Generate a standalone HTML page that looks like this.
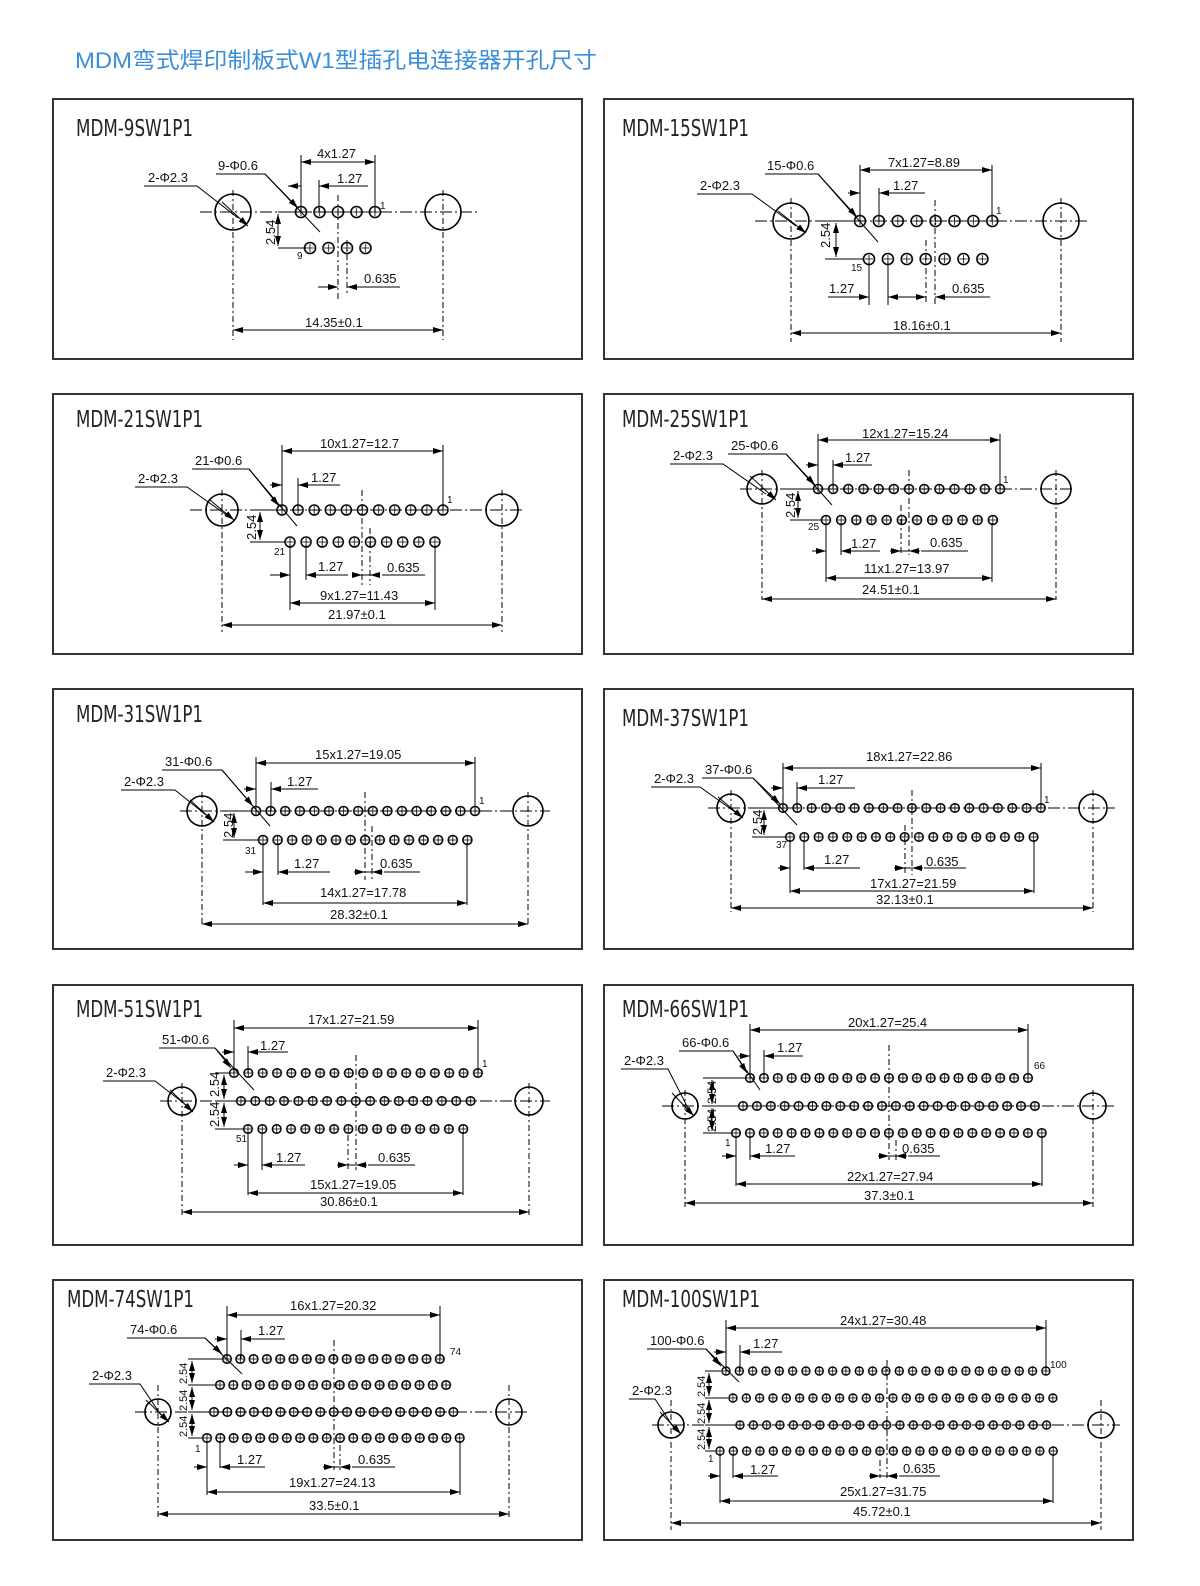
<!DOCTYPE html>
<html><head><meta charset="utf-8"><style>
html,body{margin:0;padding:0;background:#fff;overflow:hidden;width:1200px;height:1586px}
svg{display:block}
text{font-family:"Liberation Sans",sans-serif;font-size:13px;fill:#111}
.t{font-family:"DejaVu Sans Condensed","Liberation Sans Narrow","Liberation Sans",sans-serif;font-size:23px;fill:#222}
.b{fill:none;stroke:#333;stroke-width:2}
.s{fill:none;stroke:#000;stroke-width:1.6}
.c{stroke:#000;stroke-width:1;stroke-dasharray:12 3 2 3;fill:none}
.v{stroke:#000;stroke-width:1;stroke-dasharray:6 3 2 3;fill:none}
.d{stroke:#000;stroke-width:1;fill:none;marker-start:url(#ar);marker-end:url(#ar)}
.e{stroke:#000;stroke-width:1;fill:none}
.m{font-size:10px}
</style></head><body>
<svg width="1200" height="1586" viewBox="0 0 1200 1586" xmlns="http://www.w3.org/2000/svg">
<defs>
<marker id="ar" viewBox="0 0 10 6" refX="10" refY="3" markerWidth="10" markerHeight="6" markerUnits="userSpaceOnUse" orient="auto-start-reverse"><path d="M0 0L10 3L0 6z" fill="#000"/></marker>
<pattern id="pa" width="18.5" height="20" patternUnits="userSpaceOnUse"><circle cx="9.25" cy="10" r="5.5" fill="none" stroke="#000" stroke-width="1.6"/><path d="M9.25 6v8M5.25 10h8" stroke="#000" stroke-width="0.8"/></pattern>
<pattern id="pb" width="18.9" height="20" patternUnits="userSpaceOnUse"><circle cx="9.45" cy="10" r="5.5" fill="none" stroke="#000" stroke-width="1.6"/><path d="M9.45 6v8M5.45 10h8" stroke="#000" stroke-width="0.8"/></pattern>
<pattern id="pc" width="16.1" height="20" patternUnits="userSpaceOnUse"><circle cx="8.05" cy="10" r="5" fill="none" stroke="#000" stroke-width="1.5"/><path d="M8.05 6v8M4.05 10h8" stroke="#000" stroke-width="0.8"/></pattern>
<pattern id="pd" width="15.17" height="20" patternUnits="userSpaceOnUse"><circle cx="7.585" cy="10" r="4.5" fill="none" stroke="#000" stroke-width="1.5"/><path d="M7.585 6v8M3.585 10h8" stroke="#000" stroke-width="0.8"/></pattern>
<pattern id="pe" width="14.6" height="20" patternUnits="userSpaceOnUse"><circle cx="7.3" cy="10" r="4.5" fill="none" stroke="#000" stroke-width="1.5"/><path d="M7.3 6v8M3.3 10h8" stroke="#000" stroke-width="0.8"/></pattern>
<pattern id="pf" width="14.33" height="20" patternUnits="userSpaceOnUse"><circle cx="7.165" cy="10" r="4.3" fill="none" stroke="#000" stroke-width="1.5"/><path d="M7.165 6v8M3.165 10h8" stroke="#000" stroke-width="0.8"/></pattern>
<pattern id="pg" width="14.35" height="20" patternUnits="userSpaceOnUse"><circle cx="7.175" cy="10" r="4.3" fill="none" stroke="#000" stroke-width="1.5"/><path d="M7.175 6v8M3.175 10h8" stroke="#000" stroke-width="0.8"/></pattern>
<pattern id="ph" width="13.9" height="20" patternUnits="userSpaceOnUse"><circle cx="6.95" cy="10" r="4.3" fill="none" stroke="#000" stroke-width="1.5"/><path d="M6.95 6v8M2.95 10h8" stroke="#000" stroke-width="0.8"/></pattern>
<pattern id="pi" width="13.3" height="20" patternUnits="userSpaceOnUse"><circle cx="6.65" cy="10" r="4.3" fill="none" stroke="#000" stroke-width="1.5"/><path d="M6.65 6v8M2.65 10h8" stroke="#000" stroke-width="0.8"/></pattern>
<pattern id="pj" width="13.33" height="20" patternUnits="userSpaceOnUse"><circle cx="6.665" cy="10" r="4" fill="none" stroke="#000" stroke-width="1.4"/><path d="M6.665 6v8M2.665 10h8" stroke="#000" stroke-width="0.8"/></pattern>
</defs>

<text x="75" y="68" style="font-family:'Liberation Sans','Noto Sans CJK SC',sans-serif;font-size:22px;fill:#3b8ed8" textLength="522" lengthAdjust="spacingAndGlyphs">MDM弯式焊印制板式W1型插孔电连接器开孔尺寸</text>

<rect class="b" x="53" y="99" width="529" height="260"/>
<rect class="b" x="604" y="99" width="529" height="260"/>
<rect class="b" x="53" y="394" width="529" height="260"/>
<rect class="b" x="604" y="394" width="529" height="260"/>
<rect class="b" x="53" y="689" width="529" height="260"/>
<rect class="b" x="604" y="689" width="529" height="260"/>
<rect class="b" x="53" y="985" width="529" height="260"/>
<rect class="b" x="604" y="985" width="529" height="260"/>
<rect class="b" x="53" y="1280" width="529" height="260"/>
<rect class="b" x="604" y="1280" width="529" height="260"/>

<text class="t" x="76" y="136" textLength="117" lengthAdjust="spacingAndGlyphs">MDM-9SW1P1</text>
<text class="t" x="622" y="136" textLength="127" lengthAdjust="spacingAndGlyphs">MDM-15SW1P1</text>
<text class="t" x="76" y="427" textLength="127" lengthAdjust="spacingAndGlyphs">MDM-21SW1P1</text>
<text class="t" x="622" y="427" textLength="127" lengthAdjust="spacingAndGlyphs">MDM-25SW1P1</text>
<text class="t" x="76" y="722" textLength="127" lengthAdjust="spacingAndGlyphs">MDM-31SW1P1</text>
<text class="t" x="622" y="726" textLength="127" lengthAdjust="spacingAndGlyphs">MDM-37SW1P1</text>
<text class="t" x="76" y="1017" textLength="127" lengthAdjust="spacingAndGlyphs">MDM-51SW1P1</text>
<text class="t" x="622" y="1017" textLength="127" lengthAdjust="spacingAndGlyphs">MDM-66SW1P1</text>
<text class="t" x="67" y="1307" textLength="127" lengthAdjust="spacingAndGlyphs">MDM-74SW1P1</text>
<text class="t" x="622" y="1307" textLength="138" lengthAdjust="spacingAndGlyphs">MDM-100SW1P1</text>

<!-- P1 -->
<path class="c" d="M200 212H480"/>
<circle class="s" cx="233" cy="212" r="18"/><circle class="s" cx="443" cy="212" r="18"/>
<path class="v" d="M233 190V340M443 190V340M338 195V300M347 240V295"/>
<g transform="translate(291.75 202)"><rect width="92.5" height="20" fill="url(#pa)"/></g>
<g transform="translate(300.75 238)"><rect width="74" height="20" fill="url(#pa)"/></g>
<path class="e" d="M301 155V212M375 155V212M319 180V212M278 212H300M278 248H306"/>
<path class="d" d="M301 162H375"/><text x="317" y="158">4x1.27</text>
<path class="e" d="M288 186H301"/><path class="d" d="M301 186H288" style="marker-start:none"/><path class="e" d="M330 186H368"/><path class="d" d="M330 186H319" style="marker-start:none"/><text x="337" y="183">1.27</text>
<path class="d" d="M278 214V246"/><text x="275" y="245" transform="rotate(-90 275 245)">2.54</text>
<path class="e" d="M318 287H338M347 287H400"/><path class="d" d="M328 287H338" style="marker-start:none"/><path class="d" d="M357 287H347" style="marker-start:none"/><text x="364" y="283">0.635</text>
<path class="d" d="M233 330H443"/><text x="305" y="327">14.35±0.1</text>
<text x="148" y="182">2-Φ2.3</text><path class="e" d="M144 186H197L238 218"/><path class="d" d="M222 202L248 226" style="marker-start:none"/>
<text x="218" y="170">9-Φ0.6</text><path class="e" d="M216 174H265L320 232"/><path class="d" d="M265 174L298 208" style="marker-start:none"/>
<text class="m" x="380" y="209">1</text><text class="m" x="297" y="259">9</text>

<!-- P2 -->
<path class="c" d="M755 221H1090"/>
<circle class="s" cx="791" cy="221" r="18"/><circle class="s" cx="1061" cy="221" r="18"/>
<path class="v" d="M791 198V342M1061 198V342M935 200V305M926 240V305"/>
<g transform="translate(850.55 211)"><rect width="151.2" height="20" fill="url(#pb)"/></g>
<g transform="translate(859.55 249)"><rect width="132.3" height="20" fill="url(#pb)"/></g>
<path class="e" d="M860 165V221M992 165V221M879 188V221M825 221H855M825 259H864M869 262V305M888 262V305"/>
<path class="d" d="M860 170H992"/><text x="888" y="167">7x1.27=8.89</text>
<path class="d" d="M848 193H860" style="marker-start:none"/><path class="d" d="M893 193H879" style="marker-start:none"/><path class="e" d="M893 193H925"/><text x="893" y="190">1.27</text>
<path class="d" d="M836 223V257"/><text x="830" y="248" transform="rotate(-90 830 248)">2.54</text>
<path class="e" d="M828 297H869M888 297H926M935 297H990"/><path class="d" d="M858 297H869" style="marker-start:none"/><path class="d" d="M899 297H888" style="marker-start:none"/><path class="d" d="M916 297H926" style="marker-start:none"/><path class="d" d="M945 297H935" style="marker-start:none"/>
<text x="829" y="293">1.27</text><text x="952" y="293">0.635</text>
<path class="d" d="M791 333H1061"/><text x="893" y="330">18.16±0.1</text>
<text x="700" y="190">2-Φ2.3</text><path class="e" d="M697 194H752L796 226"/><path class="d" d="M778 211L806 233" style="marker-start:none"/>
<text x="767" y="170">15-Φ0.6</text><path class="e" d="M765 174H818L878 242"/><path class="d" d="M818 174L857 217" style="marker-start:none"/>
<text class="m" x="996" y="214">1</text><text class="m" x="851" y="271">15</text>

<!-- P3 -->
<path class="c" d="M190 510H525"/>
<circle class="s" cx="222" cy="510" r="16"/><circle class="s" cx="502" cy="510" r="16"/>
<path class="v" d="M222 490V632M502 490V632M362 490V585M370 528V585"/>
<g transform="translate(273.95 500)"><rect width="177.1" height="20" fill="url(#pc)"/></g>
<g transform="translate(281.95 532)"><rect width="161" height="20" fill="url(#pc)"/></g>
<path class="e" d="M282 445V510M443 445V510M298 478V510M250 510H277M250 542H285M290 545V610M435 545V610M306 545V580"/>
<path class="d" d="M282 451H443"/><text x="320" y="448">10x1.27=12.7</text>
<path class="d" d="M270 485H282" style="marker-start:none"/><path class="d" d="M311 485H298" style="marker-start:none"/><path class="e" d="M311 485H340"/><text x="311" y="482">1.27</text>
<path class="d" d="M260 512V540"/><text x="256" y="540" transform="rotate(-90 256 540)">2.54</text>
<path class="e" d="M270 575H290M306 575H348M362 575H370M382 575H425"/><path class="d" d="M279 575H290" style="marker-start:none"/><path class="d" d="M317 575H306" style="marker-start:none"/><path class="d" d="M352 575H362" style="marker-start:none"/><path class="d" d="M380 575H370" style="marker-start:none"/>
<text x="318" y="571">1.27</text><text x="387" y="572">0.635</text>
<path class="d" d="M290 603H435"/><text x="320" y="600">9x1.27=11.43</text>
<path class="d" d="M222 625H502"/><text x="328" y="619">21.97±0.1</text>
<text x="138" y="483">2-Φ2.3</text><path class="e" d="M135 487H187L228 516"/><path class="d" d="M210 500L234 520" style="marker-start:none"/>
<text x="195" y="465">21-Φ0.6</text><path class="e" d="M192 469H249L297 526"/><path class="d" d="M249 469L279 506" style="marker-start:none"/>
<text class="m" x="447" y="503">1</text><text class="m" x="274" y="555">21</text>

<!-- P4 -->
<path class="c" d="M740 489H1075"/>
<circle class="s" cx="762" cy="489" r="15"/><circle class="s" cx="1056" cy="489" r="15"/>
<path class="v" d="M762 470V600M1056 470V600M909 470V555M901 505V555"/>
<g transform="translate(810.4 479)"><rect width="197.2" height="20" fill="url(#pd)"/></g>
<g transform="translate(818.4 510)"><rect width="182" height="20" fill="url(#pd)"/></g>
<path class="e" d="M818 434V489M1000 434V489M833 460V489M790 489H814M790 520H822M826 523V582M992 523V582M841 523V555"/>
<path class="d" d="M818 440H1000"/><text x="862" y="438">12x1.27=15.24</text>
<path class="d" d="M806 465H818" style="marker-start:none"/><path class="d" d="M845 465H833" style="marker-start:none"/><path class="e" d="M845 465H872"/><text x="845" y="462">1.27</text>
<path class="d" d="M798 491V518"/><text x="795" y="518" transform="rotate(-90 795 518)">2.54</text>
<path class="e" d="M812 551H826M841 551H880M901 551H909M921 551H968"/><path class="d" d="M815 551H826" style="marker-start:none"/><path class="d" d="M852 551H841" style="marker-start:none"/><path class="d" d="M890 551H901" style="marker-start:none"/><path class="d" d="M920 551H909" style="marker-start:none"/>
<text x="851" y="548">1.27</text><text x="930" y="547">0.635</text>
<path class="d" d="M826 578H992"/><text x="864" y="573">11x1.27=13.97</text>
<path class="d" d="M762 599H1056"/><text x="862" y="594">24.51±0.1</text>
<text x="673" y="460">2-Φ2.3</text><path class="e" d="M670 464H723L766 494"/><path class="d" d="M750 476L776 500" style="marker-start:none"/>
<text x="731" y="450">25-Φ0.6</text><path class="e" d="M728 454H786L832 505"/><path class="d" d="M786 454L815 485" style="marker-start:none"/>
<text class="m" x="1003" y="483">1</text><text class="m" x="808" y="530">25</text>

<!-- P5 -->
<path class="c" d="M180 811H550"/>
<circle class="s" cx="202" cy="811" r="15"/><circle class="s" cx="528" cy="811" r="15"/>
<path class="v" d="M202 792V925M528 792V925M365 792V880M372 826V880"/>
<g transform="translate(248.7 801)"><rect width="233.6" height="20" fill="url(#pe)"/></g>
<g transform="translate(255.7 830)"><rect width="219" height="20" fill="url(#pe)"/></g>
<path class="e" d="M256 757V811M475 757V811M271 782V811M223 811H252M223 840H259M263 843V905M467 843V905M278 843V875"/>
<path class="d" d="M256 763H475"/><text x="315" y="759">15x1.27=19.05</text>
<path class="d" d="M244 789H256" style="marker-start:none"/><path class="d" d="M283 789H271" style="marker-start:none"/><path class="e" d="M283 789H318"/><text x="287" y="786">1.27</text>
<path class="d" d="M234 813V838"/><text x="233" y="838" transform="rotate(-90 233 838)">2.54</text>
<path class="e" d="M245 872H263M278 872H330M365 872H372M384 872H420"/><path class="d" d="M252 872H263" style="marker-start:none"/><path class="d" d="M289 872H278" style="marker-start:none"/><path class="d" d="M354 872H365" style="marker-start:none"/><path class="d" d="M383 872H372" style="marker-start:none"/>
<text x="294" y="868">1.27</text><text x="380" y="868">0.635</text>
<path class="d" d="M263 903H467"/><text x="320" y="897">14x1.27=17.78</text>
<path class="d" d="M202 924H528"/><text x="330" y="919">28.32±0.1</text>
<text x="124" y="786">2-Φ2.3</text><path class="e" d="M121 790H175L206 815"/><path class="d" d="M190 800L214 822" style="marker-start:none"/>
<text x="165" y="766">31-Φ0.6</text><path class="e" d="M162 770H222L270 826"/><path class="d" d="M222 770L253 806" style="marker-start:none"/>
<text class="m" x="479" y="804">1</text><text class="m" x="245" y="854">31</text>

<!-- P6 -->
<path class="c" d="M708 808H1115"/>
<circle class="s" cx="731" cy="808" r="14"/><circle class="s" cx="1093" cy="808" r="14"/>
<path class="v" d="M731 790V912M1093 790V912M912 790V875M905 825V875"/>
<g transform="translate(775.8 798)"><rect width="272.3" height="20" fill="url(#pf)"/></g>
<g transform="translate(782.8 827)"><rect width="257.9" height="20" fill="url(#pf)"/></g>
<path class="e" d="M783 763V808M1041 763V808M797 782V808M752 808H779M752 837H786M790 840V893M1034 840V893M804 840V870"/>
<path class="d" d="M783 768H1041"/><text x="866" y="761">18x1.27=22.86</text>
<path class="d" d="M771 788H783" style="marker-start:none"/><path class="d" d="M809 788H797" style="marker-start:none"/><path class="e" d="M809 788H855"/><text x="818" y="784">1.27</text>
<path class="d" d="M764 810V835"/><text x="762" y="835" transform="rotate(-90 762 835)">2.54</text>
<path class="e" d="M778 868H790M804 868H860M905 868H912M924 868H966"/><path class="d" d="M780 868H790" style="marker-start:none"/><path class="d" d="M815 868H804" style="marker-start:none"/><path class="d" d="M894 868H905" style="marker-start:none"/><path class="d" d="M923 868H912" style="marker-start:none"/>
<text x="824" y="864">1.27</text><text x="926" y="866">0.635</text>
<path class="d" d="M790 891H1034"/><text x="870" y="888">17x1.27=21.59</text>
<path class="d" d="M731 908H1093"/><text x="876" y="904">32.13±0.1</text>
<text x="654" y="783">2-Φ2.3</text><path class="e" d="M651 787H700L735 812"/><path class="d" d="M718 797L743 818" style="marker-start:none"/>
<text x="705" y="774">37-Φ0.6</text><path class="e" d="M702 778H753L797 825"/><path class="d" d="M753 778L780 804" style="marker-start:none"/>
<text class="m" x="1044" y="803">1</text><text class="m" x="776" y="848">37</text>

<!-- P7 -->
<path class="c" d="M160 1101H550"/>
<circle class="s" cx="182" cy="1101" r="14"/><circle class="s" cx="529" cy="1101" r="14"/>
<path class="v" d="M182 1083V1215M529 1083V1215M356 1055V1170M348 1135V1170"/>
<g transform="translate(226.8 1063)"><rect width="258.3" height="20" fill="url(#pg)"/></g>
<g transform="translate(233.8 1091)"><rect width="244" height="20" fill="url(#pg)"/></g>
<g transform="translate(240.8 1119)"><rect width="229.6" height="20" fill="url(#pg)"/></g>
<path class="e" d="M234 1020V1073M478 1020V1073M248 1046V1073M215 1073H230M215 1101H236M215 1129H244M248 1132V1195M463 1132V1195M262 1132V1170"/>
<path class="d" d="M234 1028H478"/><text x="308" y="1024">17x1.27=21.59</text>
<path class="d" d="M222 1052H234" style="marker-start:none"/><path class="d" d="M260 1052H248" style="marker-start:none"/><path class="e" d="M260 1052H288"/><text x="260" y="1050">1.27</text>
<path class="d" d="M224 1075V1099"/><path class="d" d="M224 1103V1127"/>
<text x="219" y="1097" transform="rotate(-90 219 1097)">2.54</text><text x="219" y="1127" transform="rotate(-90 219 1127)">2.54</text>
<path class="e" d="M234 1165H248M262 1165H305M348 1165H356M368 1165H415"/><path class="d" d="M237 1165H248" style="marker-start:none"/><path class="d" d="M273 1165H262" style="marker-start:none"/><path class="d" d="M337 1165H348" style="marker-start:none"/><path class="d" d="M367 1165H356" style="marker-start:none"/>
<text x="276" y="1162">1.27</text><text x="378" y="1162">0.635</text>
<path class="d" d="M248 1193H463"/><text x="310" y="1189">15x1.27=19.05</text>
<path class="d" d="M182 1212H529"/><text x="320" y="1206">30.86±0.1</text>
<text x="106" y="1077">2-Φ2.3</text><path class="e" d="M103 1081H155L186 1105"/><path class="d" d="M170 1090L193 1112" style="marker-start:none"/>
<text x="162" y="1044">51-Φ0.6</text><path class="e" d="M159 1048H215L254 1090"/><path class="d" d="M215 1048L231 1068" style="marker-start:none"/>
<text class="m" x="482" y="1067">1</text><text class="m" x="236" y="1142">51</text>

<!-- P8 -->
<path class="c" d="M662 1106H1115"/>
<circle class="s" cx="685" cy="1106" r="13"/><circle class="s" cx="1093" cy="1106" r="13"/>
<path class="v" d="M685 1090V1207M1093 1090V1207M889 1045V1160M896 1140V1160"/>
<g transform="translate(743.05 1068)"><rect width="291.9" height="20" fill="url(#ph)"/></g>
<g transform="translate(736.05 1096)"><rect width="305.8" height="20" fill="url(#ph)"/></g>
<g transform="translate(729.05 1123)"><rect width="319.7" height="20" fill="url(#ph)"/></g>
<path class="e" d="M750 1024V1078M1028 1024V1078M764 1050V1078M703 1078H746M703 1106H739M703 1133H732M736 1136V1186M1042 1136V1186M750 1136V1160"/>
<path class="d" d="M750 1030H1028"/><text x="848" y="1027">20x1.27=25.4</text>
<path class="d" d="M738 1056H750" style="marker-start:none"/><path class="d" d="M776 1056H764" style="marker-start:none"/><path class="e" d="M776 1056H803"/><text x="777" y="1052">1.27</text>
<path class="d" d="M712 1080V1104"/><path class="d" d="M712 1108V1131"/>
<text x="716" y="1104" transform="rotate(-90 716 1104)" style="font-size:12px">2.54</text><text x="716" y="1132" transform="rotate(-90 716 1132)" style="font-size:12px">2.54</text>
<path class="e" d="M722 1156H736M750 1156H795M889 1156H896M908 1156H940"/><path class="d" d="M725 1156H736" style="marker-start:none"/><path class="d" d="M761 1156H750" style="marker-start:none"/><path class="d" d="M878 1156H889" style="marker-start:none"/><path class="d" d="M907 1156H896" style="marker-start:none"/>
<text x="765" y="1153">1.27</text><text x="902" y="1153">0.635</text>
<path class="d" d="M736 1184H1042"/><text x="847" y="1181">22x1.27=27.94</text>
<path class="d" d="M685 1203H1093"/><text x="864" y="1200">37.3±0.1</text>
<text x="624" y="1065">2-Φ2.3</text><path class="e" d="M621 1069H668L689 1110"/><path class="d" d="M672 1093L694 1116" style="marker-start:none"/>
<text x="682" y="1047">66-Φ0.6</text><path class="e" d="M679 1051H733L760 1090"/><path class="d" d="M733 1051L747 1073" style="marker-start:none"/>
<text class="m" x="1034" y="1069">66</text><text class="m" x="725" y="1146">1</text>

<!-- P9 -->
<path class="c" d="M135 1412H530"/>
<circle class="s" cx="158" cy="1412" r="13"/><circle class="s" cx="509" cy="1412" r="13"/>
<path class="v" d="M158 1385V1518M509 1385V1518M334 1340V1470M340 1445V1470"/>
<g transform="translate(220.35 1349)"><rect width="226.1" height="20" fill="url(#pi)"/></g>
<g transform="translate(213.35 1375)"><rect width="239.4" height="20" fill="url(#pi)"/></g>
<g transform="translate(207.35 1402)"><rect width="252.7" height="20" fill="url(#pi)"/></g>
<g transform="translate(200.35 1428)"><rect width="266" height="20" fill="url(#pi)"/></g>
<path class="e" d="M227 1306V1359M440 1306V1359M241 1330V1359M188 1359H222M188 1385H215M188 1412H209M188 1438H202M207 1441V1495M460 1441V1495M220 1441V1468"/>
<path class="d" d="M227 1315H440"/><text x="290" y="1310">16x1.27=20.32</text>
<path class="d" d="M215 1339H227" style="marker-start:none"/><path class="d" d="M253 1339H241" style="marker-start:none"/><path class="e" d="M253 1339H285"/><text x="258" y="1335">1.27</text>
<path class="d" d="M192 1361V1383"/><path class="d" d="M192 1387V1410"/><path class="d" d="M192 1414V1436"/>
<text x="187" y="1384" transform="rotate(-90 187 1384)" style="font-size:11px">2.54</text><text x="187" y="1411" transform="rotate(-90 187 1411)" style="font-size:11px">2.54</text><text x="187" y="1437" transform="rotate(-90 187 1437)" style="font-size:11px">2.54</text>
<path class="e" d="M194 1467H207M220 1467H265M334 1467H340M352 1467H395"/><path class="d" d="M196 1467H207" style="marker-start:none"/><path class="d" d="M231 1467H220" style="marker-start:none"/><path class="d" d="M323 1467H334" style="marker-start:none"/><path class="d" d="M351 1467H340" style="marker-start:none"/>
<text x="237" y="1464">1.27</text><text x="358" y="1464">0.635</text>
<path class="d" d="M207 1492H460"/><text x="289" y="1487">19x1.27=24.13</text>
<path class="d" d="M158 1514H509"/><text x="309" y="1510">33.5±0.1</text>
<text x="92" y="1380">2-Φ2.3</text><path class="e" d="M89 1384H140L161 1415"/><path class="d" d="M146 1400L169 1422" style="marker-start:none"/>
<text x="130" y="1334">74-Φ0.6</text><path class="e" d="M127 1338H205L242 1374"/><path class="d" d="M205 1338L222 1354" style="marker-start:none"/>
<text class="m" x="450" y="1355">74</text><text class="m" x="195" y="1452">1</text>

<!-- P10 -->
<path class="c" d="M652 1425H1120"/>
<circle class="s" cx="671" cy="1425" r="13"/><circle class="s" cx="1101" cy="1425" r="13"/>
<path class="v" d="M671 1400V1530M1101 1400V1530M887 1360V1478M880 1460V1478"/>
<g transform="translate(719.3 1361)"><rect width="333.25" height="20" fill="url(#pj)"/></g>
<g transform="translate(726.3 1388)"><rect width="333.25" height="20" fill="url(#pj)"/></g>
<g transform="translate(733.3 1415)"><rect width="319.9" height="20" fill="url(#pj)"/></g>
<g transform="translate(713.3 1441)"><rect width="346.6" height="20" fill="url(#pj)"/></g>
<path class="e" d="M726 1320V1371M1046 1320V1371M740 1345V1371M705 1371H721M705 1398H728M705 1425H735M705 1451H715M720 1454V1503M1053 1454V1503M733 1454V1478"/>
<path class="d" d="M726 1328H1046"/><text x="840" y="1325">24x1.27=30.48</text>
<path class="d" d="M714 1352H726" style="marker-start:none"/><path class="d" d="M752 1352H740" style="marker-start:none"/><path class="e" d="M752 1352H782"/><text x="753" y="1348">1.27</text>
<path class="d" d="M709 1373V1396"/><path class="d" d="M709 1400V1423"/><path class="d" d="M709 1427V1449"/>
<text x="705" y="1397" transform="rotate(-90 705 1397)" style="font-size:11px">2.54</text><text x="705" y="1424" transform="rotate(-90 705 1424)" style="font-size:11px">2.54</text><text x="705" y="1450" transform="rotate(-90 705 1450)" style="font-size:11px">2.54</text>
<path class="e" d="M708 1476H720M733 1476H778M880 1476H887M899 1476H940"/><path class="d" d="M709 1476H720" style="marker-start:none"/><path class="d" d="M744 1476H733" style="marker-start:none"/><path class="d" d="M869 1476H880" style="marker-start:none"/><path class="d" d="M898 1476H887" style="marker-start:none"/>
<text x="750" y="1474">1.27</text><text x="903" y="1473">0.635</text>
<path class="d" d="M720 1501H1053"/><text x="840" y="1496">25x1.27=31.75</text>
<path class="d" d="M671 1523H1101"/><text x="853" y="1516">45.72±0.1</text>
<text x="632" y="1395">2-Φ2.3</text><path class="e" d="M629 1399H655L674 1428"/><path class="d" d="M660 1412L681 1434" style="marker-start:none"/>
<text x="650" y="1345">100-Φ0.6</text><path class="e" d="M647 1349H706L739 1382"/><path class="d" d="M706 1349L721 1366" style="marker-start:none"/>
<text class="m" x="1050" y="1368">100</text><text class="m" x="708" y="1462">1</text>
</svg>
</body></html>
